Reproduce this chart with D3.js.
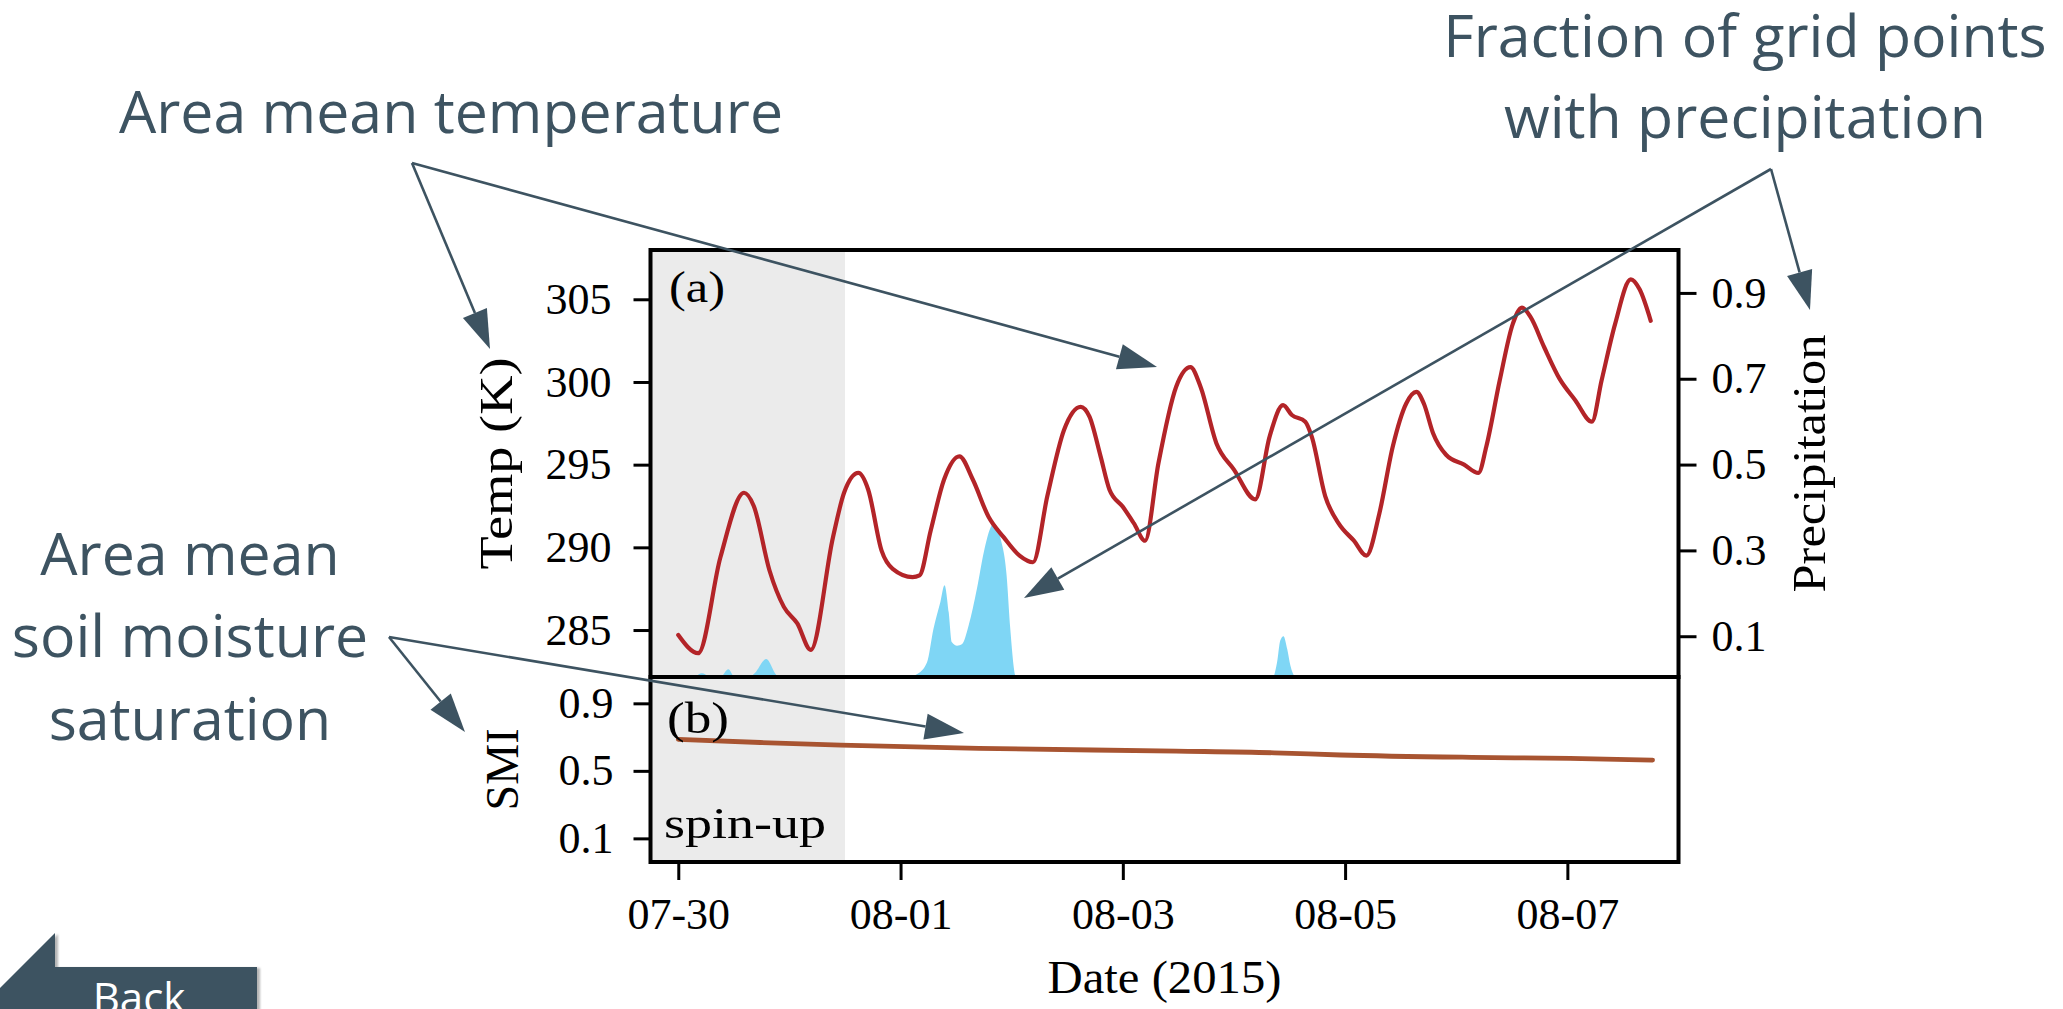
<!DOCTYPE html>
<html>
<head>
<meta charset="utf-8">
<script src="https://cdn.jsdelivr.net/npm/d3@7"></script>
<style>
  html, body { margin: 0; padding: 0; background: #fff; overflow: hidden; }
  svg { display: block; }
</style>
</head>
<body>
<svg id="chart" width="2063" height="1009"></svg>
<script>
// ---- data: hours since 2015-07-30 00:00 UTC ----
const tempHours = [0, 4.3, 9.1, 14.2, 16.3, 19.7, 22.8, 25.7, 28.6, 33.4,
  35.8, 38.9, 41.0, 43.9, 46.3, 50.6, 52.1, 54.5, 57.4, 60.7,
  63.6, 67.0, 70.3, 73.7, 76.6, 79.7, 83.3, 86.9, 88.8, 91.2,
  93.1, 96.0, 98.4, 100.8, 103.7, 107.5, 110.6, 112.8, 116.2, 120.0,
  124.6, 127.7, 130.6, 132.5, 135.4, 136.8, 139.7, 142.6, 145.9, 148.6,
  151.4, 154.3, 157.2, 159.4, 161.0, 163.0, 165.8, 169.7, 172.8, 174.5,
  177.4, 180.2, 182.2, 184.1, 187.0, 190.3, 193.7, 197.3, 199.4, 202.3,
  205.7, 207.6, 210.0];
// area mean temperature (K)
const tempValues = [284.7, 283.6, 289.4, 293.3, 292.5, 288.6, 286.4, 285.4, 283.8, 290.6,
  293.3, 294.5, 293.5, 289.8, 288.7, 288.2, 288.3, 291.0, 294.1, 295.5,
  294.1, 291.85, 290.6, 289.5, 289.1, 293.1, 297.1, 298.5, 297.9, 295.5,
  293.5, 292.45, 291.45, 290.4, 295.1, 299.7, 300.9, 299.7, 296.3, 294.7,
  292.9, 296.7, 298.6, 298.0, 297.6, 296.7, 293.1, 291.45, 290.4, 289.5,
  292.05, 296.1, 298.7, 299.4, 298.7, 296.9, 295.6, 295.0, 294.5, 296.1,
  300.1, 303.5, 304.5, 303.9, 302.1, 300.2, 298.9, 297.6, 300.1, 303.5,
  306.2, 305.6, 303.7];

// fraction of grid points with precipitation
const precipHours = [0, 2.6, 5.1, 7.6, 9.1, 10.8, 12.3, 14.5, 16.6, 19.0,
  21.0, 22.0, 49.0, 50.1, 51.6, 53.7, 55.1, 56.6, 57.5, 58.4,
  59.1, 60.2, 61.3, 62.7, 64.5, 66.0, 67.4, 68.1, 69.6, 70.9,
  71.7, 72.8, 73.4, 76.0, 77.5, 78.8, 128.2, 129.3, 130.0, 130.7,
  131.5, 132.2, 133.3, 134.4, 193.1, 194.5, 195.9, 210.0];
const precipValues = [0, 0, 0.014, 0, 0.003, 0.023, 0.002, 0, 0.015, 0.047,
  0.012, 0, 0, 0.006, 0.012, 0.039, 0.117, 0.18, 0.219, 0.156,
  0.086, 0.078, 0.082, 0.125, 0.211, 0.297, 0.352, 0.363, 0.328, 0.242,
  0.117, 0.008, 0, 0, 0.009, 0, 0, 0.039, 0.09, 0.1,
  0.07, 0.031, 0.004, 0, 0, 0.009, 0, 0];

// area mean soil moisture saturation (SMI)
const smiHours = [0, 17.7, 35.1, 64.9, 107.5, 128.7, 143.0, 171.3, 192.6, 210.4];
const smiValues = [0.687, 0.668, 0.653, 0.633, 0.617, 0.607, 0.594, 0.580, 0.574, 0.564];

// axis ticks
const dateTicks = ["2015-07-30", "2015-08-01", "2015-08-03", "2015-08-05", "2015-08-07"];
const tempTicks = [285, 290, 295, 300, 305];
const precipTicks = [0.1, 0.3, 0.5, 0.7, 0.9];
const smiTicks = [0.1, 0.5, 0.9];
const spinUpEnd = "2015-07-31T12:00:00Z";

// ---- layout ----
const svg = d3.select("#chart");
const L = 650.5, R = 1678.5, TOP = 250, MID = 677, BOT = 862;
const ink = "#3d5361";
const serif = "'Liberation Serif', 'Times New Roman', serif";
const sans = "'Open Sans', 'Noto Sans', sans-serif";

const t0 = Date.UTC(2015, 6, 30, 0);
const toDate = h => new Date(t0 + h * 3600e3);

const x = d3.scaleUtc()
  .domain([new Date(Date.UTC(2015, 6, 29, 18)), new Date(Date.UTC(2015, 7, 8, 0))])
  .range([L, R]);
const yT = d3.scaleLinear().domain([282.16, 307.98]).range([MID, TOP]);
const yP = d3.scaleLinear().domain([0.005, 1.0]).range([MID, TOP]);
const yS = d3.scaleLinear().domain([-0.04, 1.056]).range([BOT, MID]);

const defs = svg.append("defs");
defs.append("clipPath").attr("id", "clipA")
  .append("rect").attr("x", L).attr("y", TOP).attr("width", R - L).attr("height", MID - TOP);
defs.append("clipPath").attr("id", "clipB")
  .append("rect").attr("x", L).attr("y", MID).attr("width", R - L).attr("height", BOT - MID);
defs.append("filter").attr("id", "soft").append("feGaussianBlur").attr("stdDeviation", 1.2);

// spin-up shading in both panels
const xSpin = x(new Date(spinUpEnd));
svg.append("rect").attr("x", L).attr("y", TOP).attr("width", xSpin - L).attr("height", BOT - TOP)
  .attr("fill", "#ebebeb");

// precipitation fraction (right axis)
const precipData = precipHours.map((h, i) => ({ t: toDate(h), v: precipValues[i] }));
svg.append("path").datum(precipData)
  .attr("clip-path", "url(#clipA)")
  .attr("fill", "#7fd6f5")
  .attr("d", d3.area().x(d => x(d.t)).y0(yP(0)).y1(d => yP(d.v)).curve(d3.curveMonotoneX));

// temperature
const tempData = tempHours.map((h, i) => ({ t: toDate(h), v: tempValues[i] }));
svg.append("path").datum(tempData)
  .attr("clip-path", "url(#clipA)")
  .attr("fill", "none").attr("stroke", "#b32428").attr("stroke-width", 4.2)
  .attr("stroke-linejoin", "round").attr("stroke-linecap", "round")
  .attr("d", d3.line().x(d => x(d.t)).y(d => yT(d.v)).curve(d3.curveMonotoneX));

// soil moisture
const smiData = smiHours.map((h, i) => ({ t: toDate(h), v: smiValues[i] }));
svg.append("path").datum(smiData)
  .attr("clip-path", "url(#clipB)")
  .attr("fill", "none").attr("stroke", "#a85431").attr("stroke-width", 4.8)
  .attr("stroke-linecap", "round")
  .attr("d", d3.line().x(d => x(d.t)).y(d => yS(d.v)).curve(d3.curveMonotoneX));

// ---- axes ----
function styleAxis(g) {
  g.select(".domain").remove();
  g.selectAll(".tick line").attr("stroke", "#000").attr("stroke-width", 3);
  g.selectAll(".tick text").attr("fill", "#000")
    .style("font-family", serif).style("font-size", "44px");
}
svg.append("g").attr("transform", `translate(${L},0)`)
  .call(d3.axisLeft(yT).tickValues(tempTicks).tickSize(17).tickPadding(22).tickFormat(d3.format("d")))
  .call(styleAxis);
svg.append("g").attr("transform", `translate(${R},0)`)
  .call(d3.axisRight(yP).tickValues(precipTicks).tickSize(18).tickPadding(15).tickFormat(d3.format(".1f")))
  .call(styleAxis);
svg.append("g").attr("transform", `translate(${L},0)`)
  .call(d3.axisLeft(yS).tickValues(smiTicks).tickSize(17).tickPadding(20).tickFormat(d3.format(".1f")))
  .call(styleAxis);
svg.append("g").attr("transform", `translate(0,${BOT})`)
  .call(d3.axisBottom(x).tickValues(dateTicks.map(s => new Date(s + "T00:00:00Z")))
    .tickSize(18).tickPadding(18).tickFormat(d3.utcFormat("%m-%d")))
  .call(styleAxis);

// panel frames
[[TOP, MID], [MID, BOT]].forEach(([a, b]) => {
  svg.append("rect").attr("x", L).attr("y", a).attr("width", R - L).attr("height", b - a)
    .attr("fill", "none").attr("stroke", "#000").attr("stroke-width", 4);
});

// axis labels and panel tags (widened to the LaTeX roman proportions)
function serifText(txt, px, py, opts = {}) {
  const t = svg.append("text").text(txt)
    .attr("x", px).attr("y", py)
    .attr("fill", "#000")
    .style("font-family", serif).style("font-size", (opts.size || 44) + "px")
    .attr("text-anchor", opts.anchor || "start");
  if (opts.len) t.attr("textLength", opts.len).attr("lengthAdjust", "spacingAndGlyphs");
  if (opts.rotate) t.attr("transform", `rotate(${opts.rotate},${px},${py})`);
  return t;
}
serifText("Temp (K)", 512, (TOP + MID) / 2, { anchor: "middle", rotate: -90, size: 47, len: 212 });
serifText("SMI", 518, (MID + BOT) / 2, { anchor: "middle", rotate: -90, size: 47, len: 82 });
serifText("Precipitation", 1825, (TOP + MID) / 2, { anchor: "middle", rotate: -90, size: 47, len: 258 });
serifText("Date (2015)", (L + R) / 2, 993, { anchor: "middle", size: 47, len: 234 });
serifText("(a)", 669, 302, { size: 45, len: 56 });
serifText("(b)", 667, 733, { size: 45, len: 62 });
serifText("spin-up", 664, 838, { size: 45, len: 162 });

// ---- callouts ----
function sansBlock(lines, cx, baselines) {
  lines.forEach((s, i) => {
    svg.append("text").text(s)
      .attr("x", cx).attr("y", baselines[i])
      .attr("text-anchor", "middle").attr("fill", ink)
      .style("font-family", sans).style("font-size", "59px");
  });
}
sansBlock(["Area mean temperature"], 451, [133]);
sansBlock(["Fraction of grid points", "with precipitation"], 1745, [57, 138]);
sansBlock(["Area mean", "soil moisture", "saturation"], 190, [575, 657, 740]);

function arrow(from, to) {
  const dx = to[0] - from[0], dy = to[1] - from[1];
  const len = Math.hypot(dx, dy), ux = dx / len, uy = dy / len;
  const headL = 39, headW = 13;
  const bx = to[0] - ux * headL, by = to[1] - uy * headL;
  svg.append("line").attr("x1", from[0]).attr("y1", from[1]).attr("x2", bx).attr("y2", by)
    .attr("stroke", ink).attr("stroke-width", 2.6);
  svg.append("polygon")
    .attr("points", [[to[0], to[1]], [bx - uy * headW, by + ux * headW], [bx + uy * headW, by - ux * headW]]
      .map(p => p.join(",")).join(" "))
    .attr("fill", ink);
}
arrow([412, 163], [490, 349]);
arrow([412, 163], [1157, 367]);
arrow([1771, 169], [1810, 310]);
arrow([1771, 169], [1024, 598]);
arrow([389, 637], [465, 732]);
arrow([389, 637], [964, 733]);

// ---- back button ----
const btn = [[55, 933], [55, 967], [257, 967], [257, 1015], [-27, 1015]];
svg.append("polygon").attr("points", btn.map(p => [p[0] + 3, p[1] + 1].join(",")).join(" "))
  .attr("fill", "#b5b5b5").attr("filter", "url(#soft)");
svg.append("polygon").attr("points", btn.map(p => p.join(",")).join(" ")).attr("fill", ink);
svg.append("text").text("Back").attr("x", 139).attr("y", 1013)
  .attr("text-anchor", "middle").attr("fill", "#fff")
  .style("font-family", sans).style("font-size", "42px");
</script>
</body>
</html>
